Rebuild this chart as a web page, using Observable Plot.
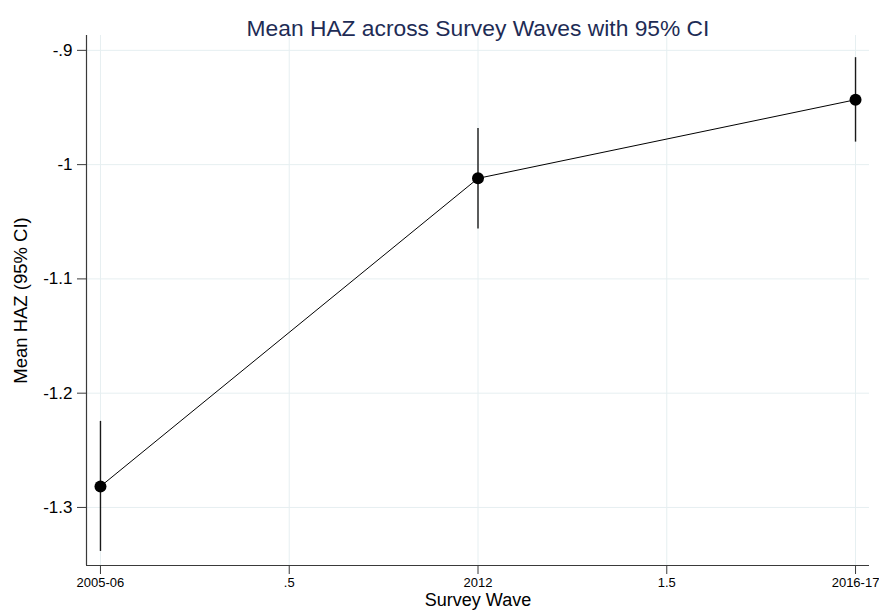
<!DOCTYPE html>
<html>
<head>
<meta charset="utf-8">
<script src="https://cdn.jsdelivr.net/npm/d3@7"></script>
<script src="https://cdn.jsdelivr.net/npm/@observablehq/plot@0.6"></script>
<style>
  html, body { margin: 0; padding: 0; background: #fff; }
  #chart svg { display: block; }
</style>
</head>
<body>
<div id="chart"></div>
<script>
// ---- data ----
const waveX = [0, 1, 2];
const waveLabels = ["2005-06", "2012", "2016-17"];
const meanHAZ = [-1.2816, -1.0120, -0.9432];
const ciLow = [-1.3385, -1.0564, -0.9803];
const ciHigh = [-1.2247, -0.9683, -0.9064];

const xTicks = [0, 0.5, 1, 1.5, 2];
const xTickLabels = ["2005-06", ".5", "2012", "1.5", "2016-17"];
const yTicks = [-1.3, -1.2, -1.1, -1, -0.9];
const yTickLabels = ["-1.3", "-1.2", "-1.1", "-1", "-.9"];

const titleText = "Mean HAZ across Survey Waves with 95% CI";
const xLabel = "Survey Wave";
const yLabel = "Mean HAZ (95% CI)";

const xDomain = [-0.037, 2.037];
const yDomain = [-1.3508, -0.887];

const rows = waveX.map((x, i) => ({x, label: waveLabels[i], mean: meanHAZ[i], lo: ciLow[i], hi: ciHigh[i]}));

const font = "Liberation Sans, Arial, Helvetica, sans-serif";
const gridColor = "#e6eff1";
const axisColor = "#3a3a3a";

const chart = Plot.plot({
  width: 879,
  height: 614,
  marginLeft: 86,
  marginRight: 10,
  marginTop: 35,
  marginBottom: 49,
  style: {fontFamily: font, background: "#fff", color: "#000"},
  x: {domain: xDomain},
  y: {domain: yDomain},
  marks: [
    Plot.gridX(xTicks, {stroke: gridColor, strokeOpacity: 1, strokeWidth: 1}),
    Plot.gridY(yTicks, {stroke: gridColor, strokeOpacity: 1, strokeWidth: 1}),
    Plot.ruleX([xDomain[0]], {stroke: axisColor, strokeWidth: 1.2}),
    Plot.ruleY([yDomain[0]], {stroke: axisColor, strokeWidth: 1.2}),
    Plot.axisY(yTicks, {
      tickSize: 9, tickPadding: 5, fontSize: 17, stroke: axisColor,
      tickFormat: d => yTickLabels[yTicks.indexOf(d)], label: null
    }),
    Plot.axisX(xTicks, {
      tickSize: 9, tickPadding: 3, fontSize: 13, stroke: axisColor,
      tickFormat: d => xTickLabels[xTicks.indexOf(d)], label: null
    }),
    Plot.ruleX(rows, {x: "x", y1: "lo", y2: "hi", stroke: "#1a1a1a", strokeWidth: 1.4}),
    Plot.line(rows, {x: "x", y: "mean", stroke: "#000", strokeWidth: 1}),
    Plot.dot(rows, {x: "x", y: "mean", r: 6, fill: "#000", stroke: "none"}),
    Plot.text([titleText], {frameAnchor: "top", dy: -16, fontSize: 22.8, fill: "#1e2c55"}),
    Plot.text([xLabel], {frameAnchor: "bottom", dy: 40, fontSize: 18, fill: "#000"}),
    Plot.text([yLabel], {frameAnchor: "left", textAnchor: "middle", dx: -65, rotate: -90, fontSize: 18.5, fill: "#000"})
  ]
});
document.getElementById("chart").appendChild(chart);
</script>
</body>
</html>
